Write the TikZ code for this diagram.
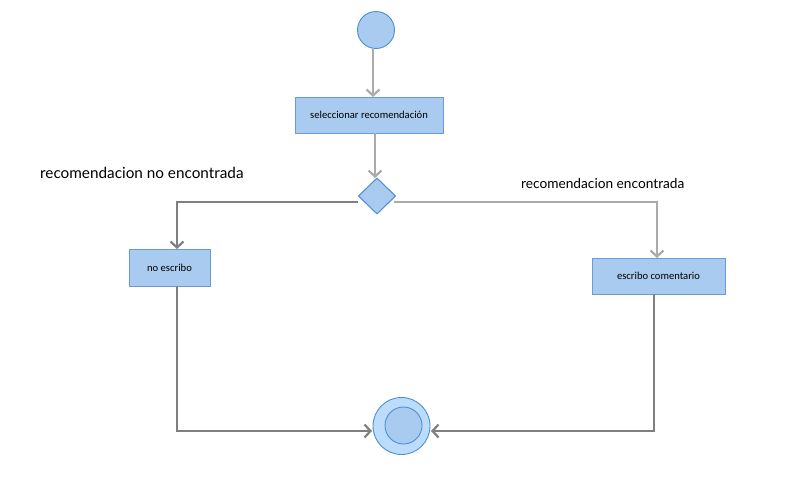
\documentclass[tikz,border=0pt]{standalone}
\usepackage{fontspec}
\setmainfont{Carlito}
\newfontfamily\labelfont{Lato}
\usetikzlibrary{arrows.meta,shapes.geometric}
\definecolor{boxfill}{HTML}{A9CBF0}
\definecolor{boxline}{HTML}{6A9BD8}
\definecolor{ringfill}{HTML}{BBDDFB}
\definecolor{ringline}{HTML}{4F8ED6}
\definecolor{flowlight}{HTML}{ABABAB}
\definecolor{flowdark}{HTML}{7F7F7F}
\tikzset{
  x=1pt, y=-1pt,
  action/.style={draw=boxline, fill=boxfill, line width=1pt, minimum height=36pt,
    inner sep=0pt, font=\fontsize{10.6}{12}\selectfont},
  startnode/.style={circle, draw=ringline, fill=boxfill, line width=0.9pt,
    minimum size=37pt, inner sep=0pt},
  decision/.style={diamond, draw=ringline, fill=boxfill, line width=0.9pt,
    minimum width=37pt, minimum height=36pt, inner sep=0pt},
  guard/.style={anchor=base west, inner sep=0pt},
  flow/.style={line width=2.2pt, -{Straight Barb[length=6pt,width=13pt,line width=2.2pt]}},
}
\begin{document}
\begin{tikzpicture}
\useasboundingbox[fill=white] (0,0) rectangle (807,482);

% nodes
\node[startnode] (start) at (376,30) {};
\node[action, minimum width=148pt] (select) at (369,115) {seleccionar recomendación};
\node[decision] (dec) at (377,196) {};
\node[action, minimum width=81pt, minimum height=37pt] (noesc) at (169.5,267.5) {no escribo};
\node[action, minimum width=133pt] (esc) at (658.5,276) {escribo comentario};
\node[circle, draw=ringline, fill=ringfill, line width=0.9pt, minimum size=57pt, inner sep=0pt] (final) at (401.5,426) {};
\node[circle, draw=ringline, fill=boxfill, line width=0.9pt, minimum size=37pt, inner sep=0pt] (finalin) at (403.5,425.5) {};

% guard labels
\node[guard, font=\labelfont\fontsize{15.3}{17}\selectfont] (gno) at (40,178) {recomendacion no encontrada};
\node[guard, font=\labelfont\fontsize{13.7}{16}\selectfont] (gyes) at (521,188) {recomendacion encontrada};

% junction points
\coordinate (dl) at (358,202);
\coordinate (dr) at (394,202);
\coordinate (lcorner) at (177,202);
\coordinate (rcorner) at (657,202);
\coordinate (lbot) at (177,431);
\coordinate (rbot) at (654,431);

% connectors
\draw[flow, flowlight] (373,48) -- (373,97);
\draw[flow, flowlight] (375,133) -- (375,178);
\draw[flow, flowdark] (dl) -- (lcorner) -- (177,249);
\draw[flow, flowlight] (dr) -- (rcorner) -- (657,258);
\draw[flow, flowdark] (177,286) -- (lbot) -- (372,431);
\draw[flow, flowdark] (654,294) -- (rbot) -- (431,431);

% redraw the decision diamond over the line ends
\node[decision] at (dec) {};
\end{tikzpicture}
\end{document}
